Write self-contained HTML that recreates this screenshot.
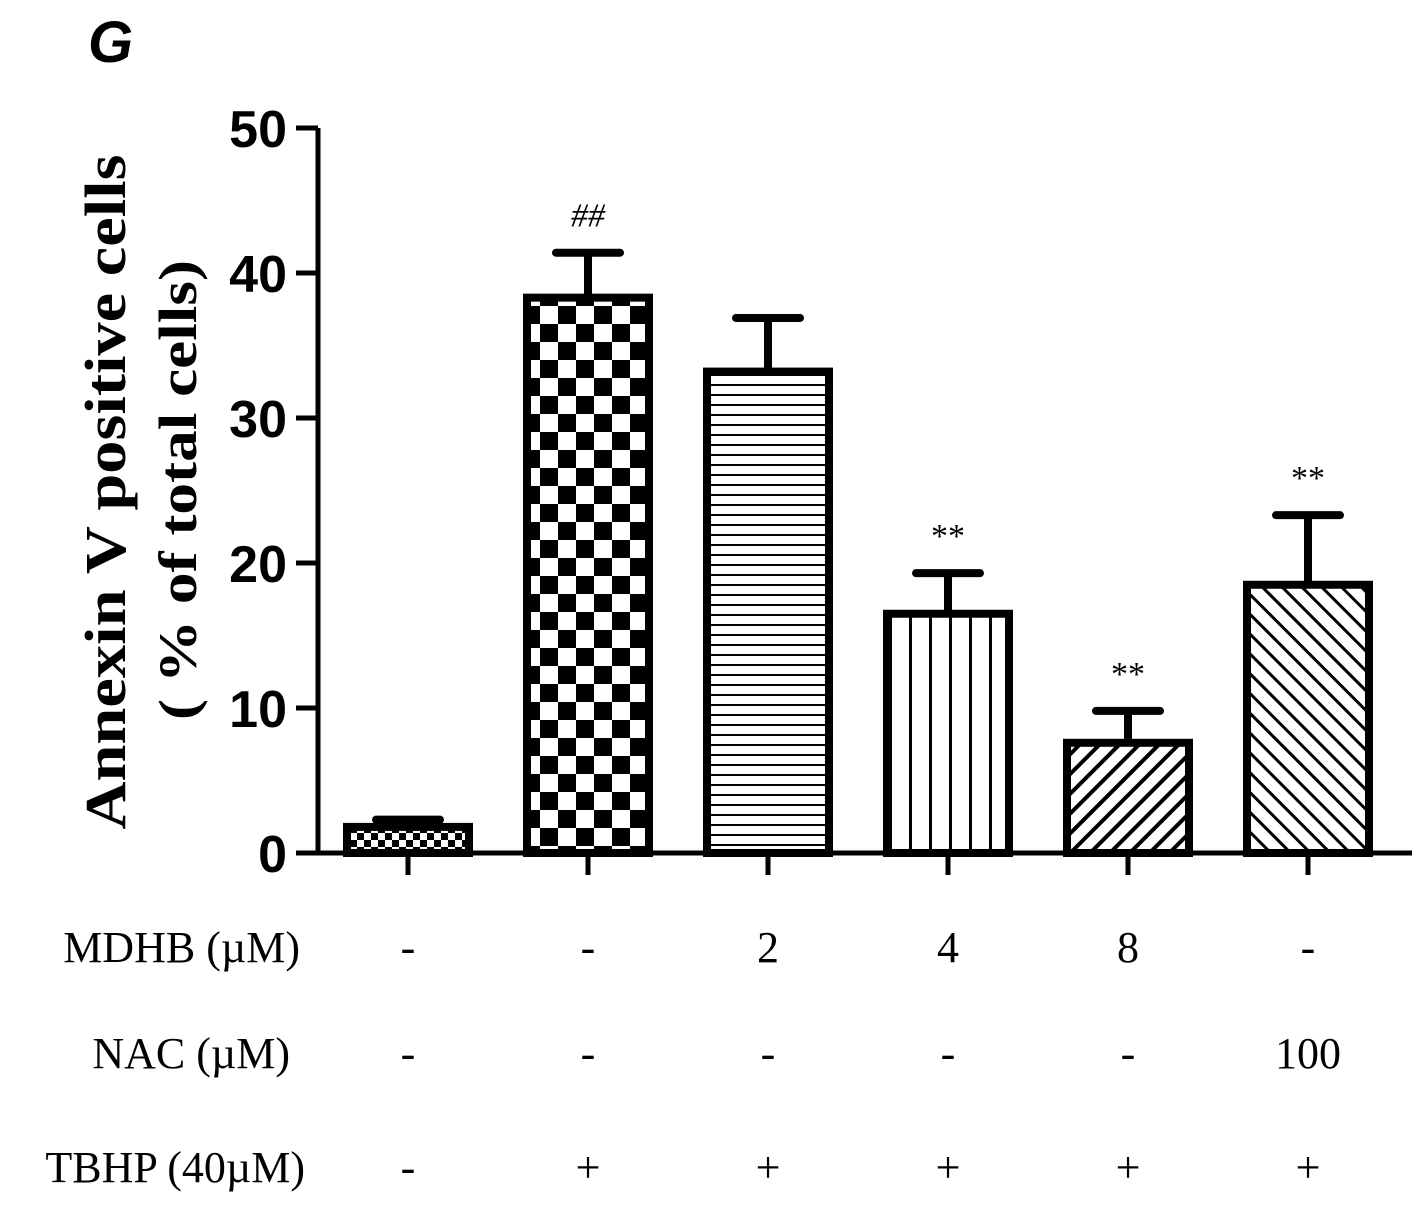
<!DOCTYPE html>
<html><head><meta charset="utf-8"><style>
body{margin:0;background:#fff;}
svg{display:block;}
</style></head><body>
<svg id="chart" width="1416" height="1211" xmlns="http://www.w3.org/2000/svg">
<defs>
<pattern id="p-small" width="14" height="14" patternUnits="userSpaceOnUse"><rect width="14" height="14" fill="#fff"/><rect width="7" height="7" fill="#000"/><rect x="7" y="7" width="7" height="7" fill="#000"/></pattern>
<pattern id="p-check" width="36" height="36" patternUnits="userSpaceOnUse"><rect width="36" height="36" fill="#fff"/><rect width="18" height="18" fill="#000"/><rect x="18" y="18" width="18" height="18" fill="#000"/></pattern>
<pattern id="p-horiz" width="10" height="10" patternUnits="userSpaceOnUse"><rect width="10" height="10" fill="#fff"/><rect y="4" width="10" height="2" fill="#000"/></pattern>
<pattern id="p-vert" width="20" height="10" patternUnits="userSpaceOnUse"><rect width="20" height="10" fill="#fff"/><rect x="9" width="3" height="10" fill="#000"/></pattern>
<pattern id="p-diag" width="14" height="14" patternUnits="userSpaceOnUse" patternTransform="rotate(45)"><rect width="14" height="14" fill="#fff"/><rect width="4" height="14" fill="#000"/></pattern>
<pattern id="p-diag2" width="14" height="14" patternUnits="userSpaceOnUse" patternTransform="rotate(-45)"><rect width="14" height="14" fill="#fff"/><rect width="3" height="14" fill="#000"/></pattern>
</defs>
<text x="88" y="62" font-family="Liberation Sans, sans-serif" font-weight="bold" font-style="italic" font-size="58">G</text>
<g id="plot"></g>
<text transform="translate(125,492) rotate(-90)" text-anchor="middle" font-family="Liberation Serif, serif" font-weight="bold" font-size="58" textLength="675" lengthAdjust="spacingAndGlyphs">Annexin V  positive cells</text>
<text transform="translate(196,490) rotate(-90)" text-anchor="middle" font-family="Liberation Serif, serif" font-weight="bold" font-size="54" textLength="460" lengthAdjust="spacingAndGlyphs">( % of total cells)</text>
</svg>
<script>
const categories = ["Control","TBHP","MDHB 2","MDHB 4","MDHB 8","NAC 100"];
const values = [1.8, 38.3, 33.2, 16.5, 7.6, 18.5];
const errors = [0.5, 3.1, 3.7, 2.8, 2.2, 4.8];
const sigLabels = ["", "##", "", "**", "**", "**"];
const yTicks = [0,10,20,30,40,50];
const rowLabels = ["MDHB (\u00b5M)","NAC (\u00b5M)","TBHP (40\u00b5M)"];
const rowValues = [["-","-","2","4","8","-"],["-","-","-","-","-","100"],["-","+","+","+","+","+"]];
const fills = ["p-small","p-check","p-horiz","p-vert","p-diag","p-diag2"];

const NS="http://www.w3.org/2000/svg";
const g=document.getElementById('plot');
const y0=853, pxPer=14.5, x0=408, step=180, bw=122;
const ys=v=>y0-v*pxPer;
const xs=i=>x0+i*step;
function mk(t,a){const e=document.createElementNS(NS,t);for(const k in a)e.setAttribute(k,a[k]);g.appendChild(e);return e;}

let ax=mk('line',{x1:318,y1:ys(50),x2:318,y2:y0+2,stroke:'#000','stroke-width':5});


yTicks.forEach(t=>{
  let l=mk('line',{x1:296,y1:ys(t),x2:318,y2:ys(t),stroke:'#000','stroke-width':5});
  
  
  let tx=mk('text',{x:287,y:ys(t)+19,'text-anchor':'end','font-family':'Liberation Sans, sans-serif','font-weight':'bold','font-size':52});
  tx.textContent=t;
  
  
});
categories.forEach((c,i)=>{
  const x=xs(i), top=ys(values[i]), et=ys(values[i]+errors[i]);
  let el=mk('line',{x1:x,y1:et,x2:x,y2:top,stroke:'#000','stroke-width':8});
  
  
  let cap=mk('line',{x1:x-32,y1:et,x2:x+32,y2:et,stroke:'#000','stroke-width':8,'stroke-linecap':'round'});
  
  
  let r=mk('rect',{x:x-bw/2,y:top,width:bw,height:y0-top,fill:'url(#'+fills[i]+')',stroke:'#000','stroke-width':8});
  
  
  if(sigLabels[i]){
    let s=mk('text',{x:x,y:et-26,'text-anchor':'middle','font-family':'Liberation Serif, serif','font-style':sigLabels[i]=='##'?'italic':'normal','font-size':34});
    s.textContent=sigLabels[i];
    
    
  }
  let tk=mk('line',{x1:x,y1:y0,x2:x,y2:y0+22,stroke:'#000','stroke-width':5});
  
  
});
let xa=mk('line',{x1:300,y1:y0,x2:1412,y2:y0,stroke:'#000','stroke-width':5});


const rowY=[962,1068,1182], rowX=[300,290,305];
rowLabels.forEach((lab,r)=>{
  let t=mk('text',{x:rowX[r],y:rowY[r],'text-anchor':'end','font-family':'Liberation Serif, serif','font-size':44});
  t.textContent=lab;
  
  
  rowValues[r].forEach((v,i)=>{
    let c=mk('text',{x:xs(i),y:rowY[r],'text-anchor':'middle','font-family':'Liberation Serif, serif','font-size':44});
    c.textContent=v;
    
    
  });
});
</script>
</body></html>
